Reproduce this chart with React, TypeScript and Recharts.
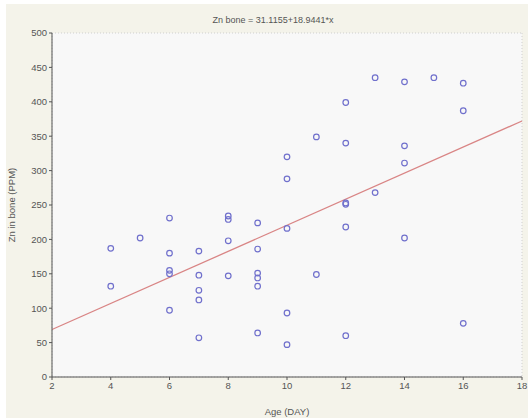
import { ComposedChart, Scatter, XAxis, YAxis, CartesianGrid, ReferenceLine } from 'recharts';

const ages = [4, 4, 5, 6, 6, 6, 6, 6, 7, 7, 7, 7, 7, 8, 8, 8, 8, 9, 9, 9, 9, 9, 9,
    10, 10, 10, 10, 10, 11, 11, 12, 12, 12, 12, 12, 12, 13, 13, 14, 14, 14, 14, 15, 16, 16, 16];
const znBone = [187, 132, 202, 231, 180, 155, 150, 97, 183, 148, 126, 112, 57, 234, 229, 198, 147,
    224, 186, 151, 144, 132, 64, 320, 288, 216, 93, 47, 349, 149, 399, 340, 253, 251, 218, 60,
    435, 268, 429, 336, 311, 202, 435, 427, 387, 78];

const xTicks = [2, 4, 6, 8, 10, 12, 14, 16, 18];
const yTicks = [0, 50, 100, 150, 200, 250, 300, 350, 400, 450, 500];

const intercept = 31.1155;
const slope = 18.9441;

const points = ages.map((a, i) => ({ x: a, y: znBone[i] }));

const fitLine = [
    { x: 2, y: intercept + slope * 2 },
    { x: 18, y: intercept + slope * 18 },
];

const tickStyle = { fontSize: 9.5, fill: '#555', fontFamily: 'Liberation Sans, Arial, sans-serif' };

function renderDot(props: any) {
    return <circle cx={props.cx} cy={props.cy} r={2.8} fill="none" stroke="#7070cc" strokeWidth={1.2} />;
}

const App = () => {
    return (
        <div style={{ position: 'absolute', left: 6, top: 4, width: 522, height: 414, background: '#f4f3ea' }}>
            <ComposedChart width={522} height={414} margin={{ top: 29, right: 6, left: 0, bottom: 0 }}>
                <CartesianGrid fill="#f8f8f8" stroke="#cfcfcf" strokeDasharray="1 2" />
                <XAxis xAxisId="b" type="number" dataKey="x" domain={[2, 18]} ticks={xTicks} height={41}
                    stroke="#555" tickSize={3} tick={tickStyle} allowDataOverflow
                    label={{ value: 'Age (DAY)', position: 'insideBottom', offset: 3, style: tickStyle }} />
                <XAxis xAxisId="t" orientation="top" type="number" domain={[2, 18]} ticks={xTicks} height={0}
                    stroke="#555" tickSize={3} tick={false} mirror />
                <YAxis yAxisId="l" type="number" dataKey="y" domain={[0, 500]} ticks={yTicks} width={46}
                    stroke="#555" tickSize={3} tick={tickStyle} allowDataOverflow
                    label={{ value: 'Zn in bone (PPM)', angle: -90, position: 'insideLeft', offset: 6, style: { ...tickStyle, textAnchor: 'middle' } }} />
                <YAxis yAxisId="r" orientation="right" type="number" domain={[0, 500]} ticks={yTicks} width={0}
                    stroke="#555" tickSize={3} tick={false} mirror />
                <ReferenceLine xAxisId="b" yAxisId="l" segment={fitLine} stroke="#d98585" strokeWidth={1.3} ifOverflow="visible" />
                <Scatter xAxisId="b" yAxisId="l" data={points} shape={renderDot} isAnimationActive={false} />
                <text x={267} y={19} textAnchor="middle" style={{ ...tickStyle, fontSize: 9 }} fill="#444">
                    Zn bone = 31.1155+18.9441*x
                </text>
            </ComposedChart>
        </div>
    );
};

export default App;
